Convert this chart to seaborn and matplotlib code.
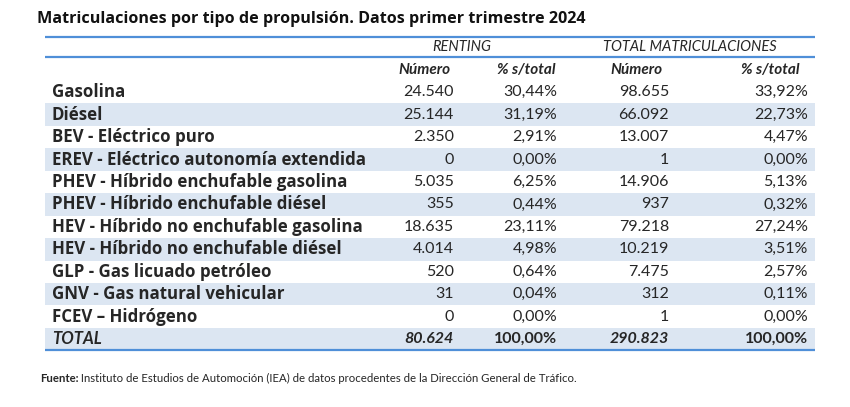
import matplotlib
matplotlib.use("Agg")
import matplotlib.pyplot as plt
import seaborn as sns
import numpy as np
import pandas as pd

title = "Matriculaciones por tipo de propulsión. Datos primer trimestre 2024"
categories = [
    "Gasolina", "Diésel", "BEV - Eléctrico puro",
    "EREV - Eléctrico autonomía extendida",
    "PHEV - Híbrido enchufable gasolina", "PHEV - Híbrido enchufable diésel",
    "HEV - Híbrido no enchufable gasolina", "HEV - Híbrido no enchufable diésel",
    "GLP - Gas licuado petróleo", "GNV - Gas natural vehicular",
    "FCEV – Hidrógeno", "TOTAL",
]
renting_num = ["24.540", "25.144", "2.350", "0", "5.035", "355", "18.635",
               "4.014", "520", "31", "0", "80.624"]
renting_pct = ["30,44%", "31,19%", "2,91%", "0,00%", "6,25%", "0,44%", "23,11%",
               "4,98%", "0,64%", "0,04%", "0,00%", "100,00%"]
total_num = ["98.655", "66.092", "13.007", "1", "14.906", "937", "79.218",
             "10.219", "7.475", "312", "1", "290.823"]
total_pct = ["33,92%", "22,73%", "4,47%", "0,00%", "5,13%", "0,32%", "27,24%",
             "3,51%", "2,57%", "0,11%", "0,00%", "100,00%"]
group_headers = ["RENTING", "TOTAL MATRICULACIONES"]
sub_headers = ["Número", "% s/total", "Número", "% s/total"]
source_bold = "Fuente:"
source_text = (" Instituto de Estudios de Automoción (IEA) de datos procedentes "
               "de la Dirección General de Tráfico.")

sns.set_theme(style="white")
plt.rcParams["font.family"] = ["Lato", "DejaVu Sans"]
BOLD = ["Open Sans", "DejaVu Sans"]

W, H = 850, 407
fig = plt.figure(figsize=(W / 100, H / 100), dpi=100)
fig.patch.set_facecolor("white")

ax = fig.add_axes([0, 0, 1, 1])
ax.set_xlim(0, W)
ax.set_ylim(H, 0)
ax.axis("off")

left, right = 45, 815
body_top, row_h = 81, 22.45
n = len(categories)
body_bot = body_top + row_h * n

band = pd.DataFrame({"band": [i % 2 for i in range(n)]}, index=categories)
hax = fig.add_axes([left / W, 1 - body_bot / H, (right - left) / W, (body_bot - body_top) / H])
sns.heatmap(band, ax=hax, cmap=["#FFFFFF", "#DCE6F2"], cbar=False,
            xticklabels=False, yticklabels=False, linewidths=0)
hax.axis("off")
hax.set_zorder(0)
ax.set_zorder(1)
ax.patch.set_alpha(0)

line_c = "#4F8FD8"
for y in (37, 57, body_bot):
    ax.plot([left, right], [y, y], color=line_c, lw=1.6, solid_capstyle="butt")

ax.text(37, 19, title, fontsize=11.6, fontweight="bold", family=BOLD,
        va="center", ha="left", color="#111111")

ax.text(462, 47, group_headers[0], fontsize=10.5, style="italic", ha="center", va="center")
ax.text(690, 47, group_headers[1], fontsize=10.5, style="italic", ha="center", va="center")

hdr_x = [451, 556, 663, 800]
for x, s in zip(hdr_x, sub_headers):
    ax.text(x, 70, s, fontsize=11, style="italic", fontweight="bold", ha="right", va="center")

val_x = [454, 557, 669, 808]
for i, cat in enumerate(categories):
    y = body_top + row_h * (i + 0.5)
    is_total = i == n - 1
    if is_total:
        ax.text(52, y, cat, fontsize=12, fontweight="bold", style="italic",
                ha="left", va="center")
    else:
        ax.text(52, y, cat, fontsize=12.2, fontweight="bold", family=BOLD,
                ha="left", va="center")
    cols = [renting_num[i], renting_pct[i], total_num[i], total_pct[i]]
    for j, (x, s) in enumerate(zip(val_x, cols)):
        kw = dict(fontsize=11.5, ha="right", va="center")
        if is_total:
            kw["fontweight"] = "bold"
            kw["style"] = "italic" if j in (0, 2) else "normal"
        ax.text(x, y, s, **kw)

t = ax.text(40, 382, source_bold, fontsize=8.2, fontweight="bold", ha="left", va="baseline")
fig.canvas.draw()
bb = t.get_window_extent()
x2 = ax.transData.inverted().transform((bb.x1, bb.y0))[0]
ax.text(x2, 382, source_text, fontsize=8.2, ha="left", va="baseline")

fig.savefig("out.png", dpi=100, facecolor="white")
